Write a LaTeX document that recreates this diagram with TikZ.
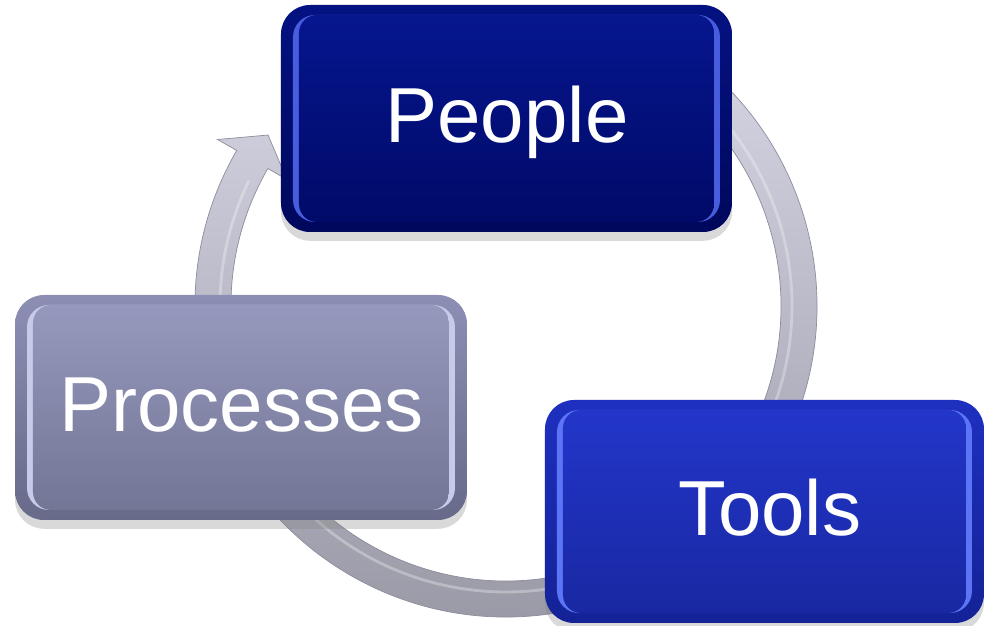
\documentclass[tikz,border=0pt]{standalone}
\usepackage{fontspec}
\setmainfont{Liberation Sans}
\usetikzlibrary{shadows}
\definecolor{ringtop}{RGB}{214,214,229}
\definecolor{ringbot}{RGB}{150,150,163}
\definecolor{ringedge}{RGB}{140,140,155}
\definecolor{pedgetop}{RGB}{4,18,130}
\definecolor{pedgebot}{RGB}{0,8,92}
\definecolor{pstripe}{RGB}{72,92,222}
\definecolor{ptop}{RGB}{6,22,142}
\definecolor{pbot}{RGB}{0,10,104}
\definecolor{tedgetop}{RGB}{30,48,192}
\definecolor{tedgebot}{RGB}{20,34,150}
\definecolor{tstripe}{RGB}{92,116,246}
\definecolor{ttop}{RGB}{34,54,202}
\definecolor{tbot}{RGB}{25,40,162}
\definecolor{cedgetop}{RGB}{140,142,180}
\definecolor{cedgebot}{RGB}{104,106,138}
\definecolor{cstripe}{RGB}{200,202,234}
\definecolor{ctop}{RGB}{150,152,189}
\definecolor{cbot}{RGB}{116,118,150}
\tikzset{
  boxedge/.style={rounded corners=0.29cm, inner sep=0pt, draw=none,
    drop shadow={shadow xshift=0pt, shadow yshift=-2.5pt, opacity=0.3}},
  boxstripe/.style={rounded corners=0.22cm, inner sep=0pt, draw=none},
  boxmain/.style={rounded corners=0.18cm, inner sep=0pt, draw=none},
  lbl/.style={text=white, font=\fontsize{22.2pt}{26pt}\selectfont,
    inner sep=0pt, text height=0.565cm, text depth=0pt, anchor=center},
}
\begin{document}
\begin{tikzpicture}
\useasboundingbox (0,0) rectangle (9.86,6.26);
\coordinate (C) at (5.06,3.20);
% circular arrow
\path[top color=ringtop, bottom color=ringbot, draw=ringedge, line width=0.2pt]
  ([shift={(60:3.11)}]C) arc[start angle=60, end angle=-210, radius=3.11]
  -- ([shift={(150:3.33)}]C) -- ([shift={(144.3:2.93)}]C)
  -- ([shift={(150:2.53)}]C) -- ([shift={(150:2.75)}]C)
  arc[start angle=150, end angle=420, radius=2.75] -- cycle;
\draw[white, opacity=0.3, line width=0.8pt]
  ([shift={(45:2.86)}]C) arc[start angle=45, end angle=-206, radius=2.86];
% People
\node[boxedge, top color=pedgetop, bottom color=pedgebot, minimum width=4.51cm, minimum height=2.27cm] (people) at (5.065,5.075) {};
\node[boxstripe, fill=pstripe, minimum width=4.27cm, minimum height=2.07cm] (peopleS) at (people.center) {};
\node[boxmain, top color=ptop, bottom color=pbot, minimum width=4.15cm, minimum height=2.07cm] (peopleM) at (people.center) {};
\node[lbl] (peopleT) at (5.07,5.12) {People};
% Tools
\node[boxedge, top color=tedgetop, bottom color=tedgebot, minimum width=4.39cm, minimum height=2.23cm] (tools) at (7.645,1.145) {};
\node[boxstripe, fill=tstripe, minimum width=4.15cm, minimum height=2.03cm] (toolsS) at (tools.center) {};
\node[boxmain, top color=ttop, bottom color=tbot, minimum width=4.03cm, minimum height=2.03cm] (toolsM) at (tools.center) {};
\node[lbl] (toolsT) at (7.70,1.185) {Tools};
% Processes
\node[boxedge, top color=cedgetop, bottom color=cedgebot, minimum width=4.52cm, minimum height=2.25cm] (proc) at (2.41,2.185) {};
\node[boxstripe, fill=cstripe, minimum width=4.28cm, minimum height=2.05cm] (procS) at (proc.center) {};
\node[boxmain, top color=ctop, bottom color=cbot, minimum width=4.16cm, minimum height=2.05cm] (procM) at (proc.center) {};
\node[lbl] (procT) at (2.415,2.225) {Processes};
\end{tikzpicture}
\end{document}
